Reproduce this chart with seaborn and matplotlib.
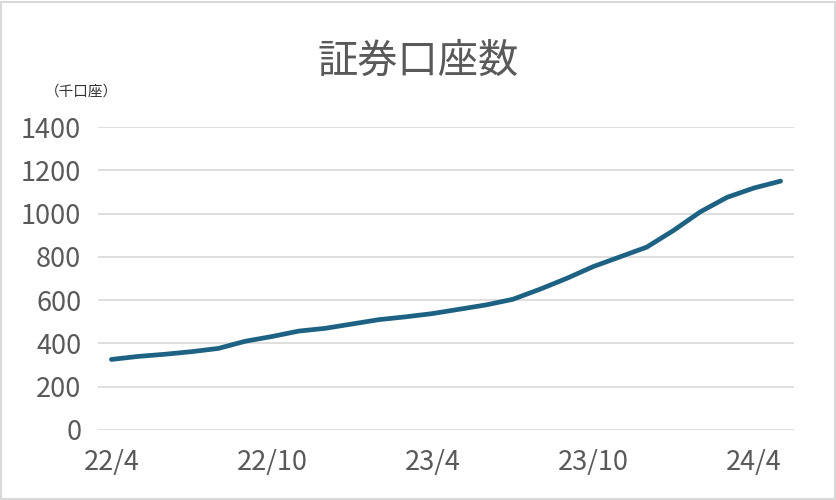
import matplotlib
matplotlib.use("Agg")
import matplotlib.pyplot as plt
import seaborn as sns
import pandas as pd
from matplotlib.patches import Rectangle

months = ["22/4", "22/5", "22/6", "22/7", "22/8", "22/9", "22/10", "22/11", "22/12",
          "23/1", "23/2", "23/3", "23/4", "23/5", "23/6", "23/7", "23/8", "23/9",
          "23/10", "23/11", "23/12", "24/1", "24/2", "24/3", "24/4", "24/5"]
accounts = [326, 340, 350, 362, 377, 410, 432, 457, 470, 490, 510, 523, 538,
            558, 578, 604, 650, 700, 755, 800, 845, 922, 1008, 1075, 1118, 1150]
tick_labels = ["22/4", "22/10", "23/4", "23/10", "24/4"]
yticks = [0, 200, 400, 600, 800, 1000, 1200, 1400]

df = pd.DataFrame({"month": months, "accounts": accounts})
df["idx"] = range(len(df))

sns.set_theme(style="white")
plt.rcParams['font.family'] = ['Noto Sans CJK JP', 'DejaVu Sans']

fig = plt.figure(figsize=(8.36, 5.0), dpi=100)
ax = fig.add_axes([98/836, 70/500, 696/836, 303/500])

sns.lineplot(data=df, x="idx", y="accounts", ax=ax, color="#1d6282",
             linewidth=3.4, solid_capstyle="round", solid_joinstyle="round")

ax.set_xlim(-0.5, len(months) - 0.5)
ax.set_ylim(0, 1400)
ax.set_yticks(yticks)
ax.set_yticklabels([str(v) for v in yticks])
ax.set_xticks([months.index(t) for t in tick_labels])
ax.set_xticklabels(tick_labels)
ax.yaxis.grid(True, color="#d9d9d9", linewidth=1.2)
ax.set_axisbelow(True)
for s in ax.spines.values():
    s.set_visible(False)
ax.tick_params(axis="both", length=0, labelsize=19.5, labelcolor="#595959")
ax.tick_params(axis="y", pad=12)
ax.tick_params(axis="x", pad=14)
ax.set_xlabel("")
ax.set_ylabel("")

fig.text(0.5, 0.877, "証券口座数", ha="center", va="center", fontsize=29, color="#595959")
fig.text(45/836, 1 - 92/500, "（千口座）", ha="left", va="center", fontsize=10.5, color="#333333")

fig.patches.append(Rectangle((0.0015, 0.002), 0.997, 0.995, transform=fig.transFigure,
                             fill=False, edgecolor="#d9d9d9", linewidth=1.5))

fig.savefig("out.png", dpi=100)
